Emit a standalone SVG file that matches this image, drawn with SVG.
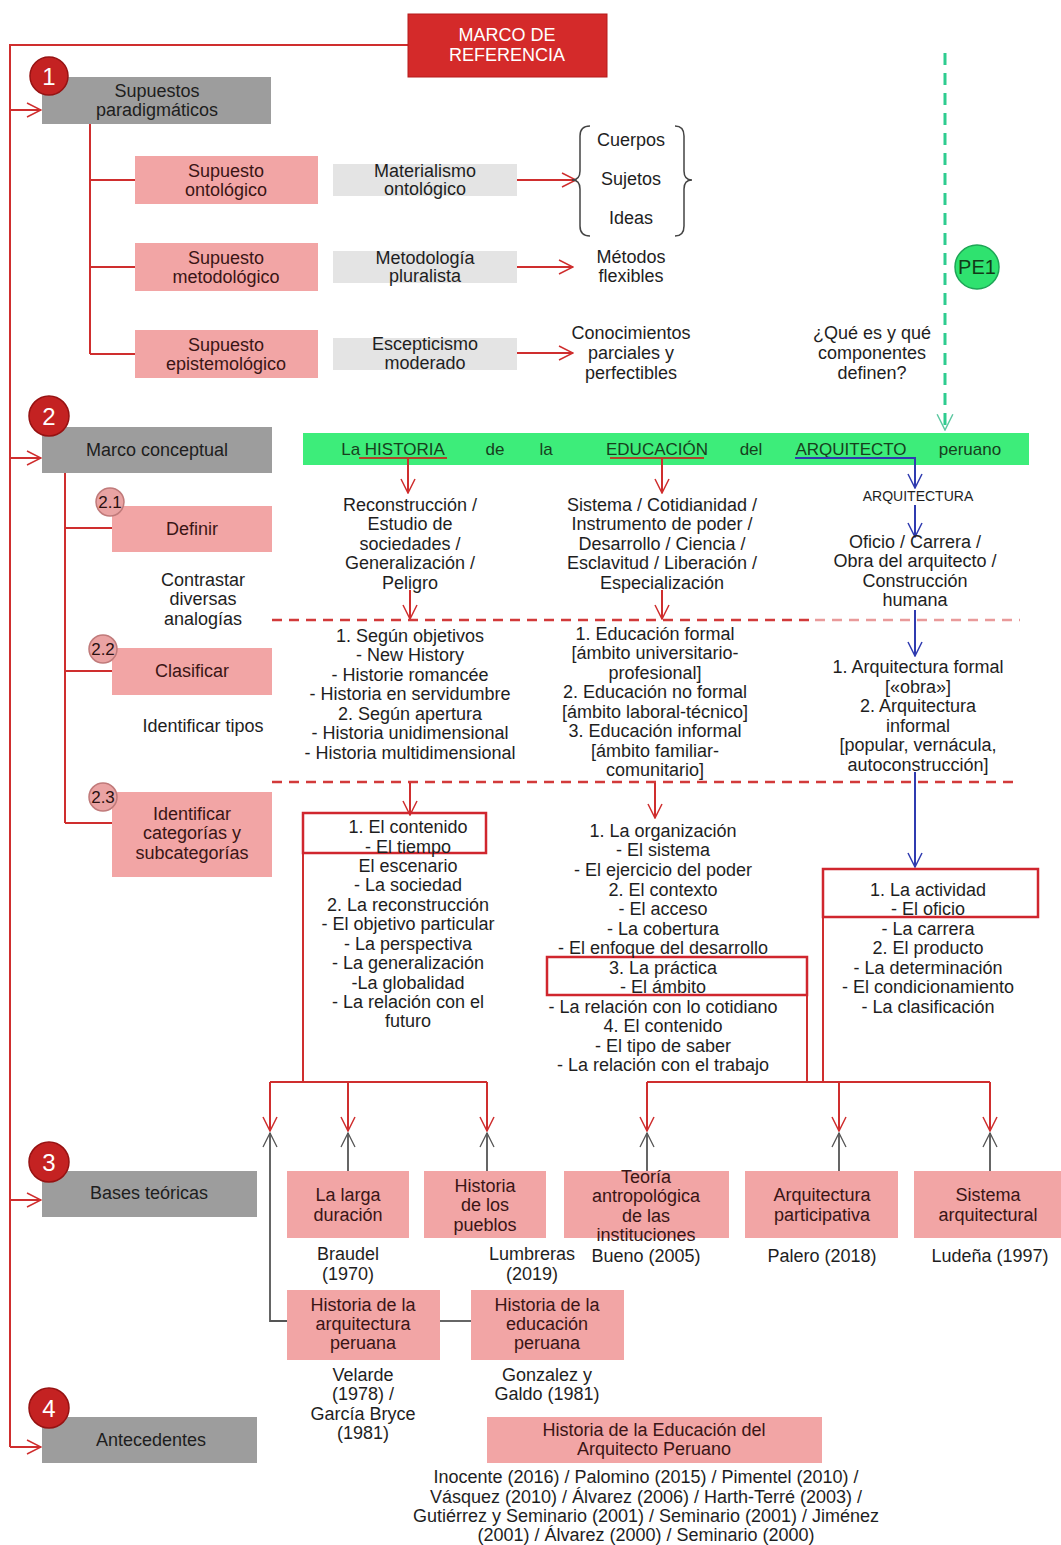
<svg xmlns="http://www.w3.org/2000/svg" width="1061" height="1545" viewBox="0 0 1061 1545">
<style>
.t{font-family:"Liberation Sans",Arial,sans-serif;font-size:18px;fill:#1e1e1e;text-anchor:middle}
.pt{font-family:"Liberation Sans",Arial,sans-serif;font-size:18px;fill:#3a1515;text-anchor:middle}
.gt{font-family:"Liberation Sans",Arial,sans-serif;font-size:17px;fill:#17401d;text-anchor:middle}
.wt{font-family:"Liberation Sans",Arial,sans-serif;font-size:18px;fill:#ffffff;text-anchor:middle}
.nt{font-family:"Liberation Sans",Arial,sans-serif;font-size:24px;fill:#ffffff;text-anchor:middle}
.st{font-family:"Liberation Sans",Arial,sans-serif;font-size:17px;fill:#2a1010;text-anchor:middle}
.pink{fill:#f2a5a5}
.gray{fill:#9d9d9d}
.lg{fill:#e4e4e4}
.num{fill:#c42222;stroke:#961212;stroke-width:1.5}
.snum{fill:#eaa3a3;stroke:#c07a7a;stroke-width:1.5}
.r{stroke:#cf2e2e;stroke-width:2;fill:none}
.b{stroke:#2f3bb0;stroke-width:2;fill:none}
.g{stroke:#555;stroke-width:1.8;fill:none}
.rb{stroke:#d0262e;stroke-width:2.5;fill:none}
</style>
<defs>
<marker id="ar" viewBox="0 0 16 16" refX="15" refY="8" markerWidth="16" markerHeight="16" markerUnits="userSpaceOnUse" orient="auto"><path d="M1,1 L15,8 L1,15" fill="none" stroke="#cf2e2e" stroke-width="1.5"/></marker>
<marker id="ab" viewBox="0 0 16 16" refX="15" refY="8" markerWidth="16" markerHeight="16" markerUnits="userSpaceOnUse" orient="auto"><path d="M1,1 L15,8 L1,15" fill="none" stroke="#2f3bb0" stroke-width="1.5"/></marker>
<marker id="ag" viewBox="0 0 16 16" refX="15" refY="8" markerWidth="16" markerHeight="16" markerUnits="userSpaceOnUse" orient="auto"><path d="M1,1 L15,8 L1,15" fill="none" stroke="#555" stroke-width="1.3"/></marker>
<marker id="agr" viewBox="0 0 16 16" refX="15" refY="8" markerWidth="18" markerHeight="18" markerUnits="userSpaceOnUse" orient="auto"><path d="M1,1 L15,8 L1,15" fill="none" stroke="#5cc7a0" stroke-width="1.3"/></marker>
</defs>
<rect width="1061" height="1545" fill="#ffffff"/>

<g id="titulo">
<rect x="303" y="433" width="726" height="32" fill="#3ded7a"/>
<text class="gt" x="393" y="455">La HISTORIA</text>
<text class="gt" x="495" y="455">de</text>
<text class="gt" x="546" y="455">la</text>
<text class="gt" x="657" y="455">EDUCACIÓN</text>
<text class="gt" x="751" y="455">del</text>
<text class="gt" x="851" y="455">ARQUITECTO</text>
<text class="gt" x="970" y="455">peruano</text>
</g>

<g id="connectors">
<polyline class="r" points="408,45 10,45 10,1447"/>
<line class="r" x1="10" y1="110" x2="41" y2="110" marker-end="url(#ar)"/>
<line class="r" x1="10" y1="458" x2="41" y2="458" marker-end="url(#ar)"/>
<line class="r" x1="10" y1="1200" x2="41" y2="1200" marker-end="url(#ar)"/>
<line class="r" x1="10" y1="1447" x2="41" y2="1447" marker-end="url(#ar)"/>
<polyline class="r" points="90,124 90,354"/>
<line class="r" x1="90" y1="180" x2="135" y2="180"/>
<line class="r" x1="90" y1="267" x2="135" y2="267"/>
<line class="r" x1="90" y1="354" x2="135" y2="354"/>
<line class="r" x1="517" y1="180" x2="576" y2="180" marker-end="url(#ar)"/>
<line class="r" x1="517" y1="267" x2="573" y2="267" marker-end="url(#ar)"/>
<line class="r" x1="517" y1="353" x2="573" y2="353" marker-end="url(#ar)"/>
<path d="M590,126 Q580,126 580,136 L580,171 Q580,180 572,180 Q580,180 580,189 L580,226 Q580,236 590,236" fill="none" stroke="#444" stroke-width="1.5"/>
<path d="M675,126 Q684,126 684,136 L684,171 Q684,180 692,180 Q684,180 684,189 L684,226 Q684,236 675,236" fill="none" stroke="#444" stroke-width="1.5"/>
<line x1="945" y1="53" x2="945" y2="430" stroke="#2ecc8f" stroke-width="3" stroke-dasharray="12,8" marker-end="url(#agr)"/>
<polyline class="r" points="65,473 65,823"/>
<line class="r" x1="65" y1="528" x2="112" y2="528"/>
<line class="r" x1="65" y1="671" x2="112" y2="671"/>
<line class="r" x1="65" y1="823" x2="112" y2="823"/>
<line x1="359" y1="458" x2="447" y2="458" stroke="#b0452a" stroke-width="2.2"/>
<line x1="610" y1="458" x2="704" y2="458" stroke="#b0452a" stroke-width="2.2"/>
<polyline class="b" points="795,458 915,458 915,488" marker-end="url(#ab)"/>
<line class="r" x1="408" y1="458" x2="408" y2="493" marker-end="url(#ar)"/>
<line class="r" x1="662" y1="458" x2="662" y2="493" marker-end="url(#ar)"/>
<line class="b" x1="915" y1="505" x2="915" y2="537" marker-end="url(#ab)"/>
<line class="r" x1="410" y1="590" x2="410" y2="619" marker-end="url(#ar)"/>
<line class="r" x1="662" y1="590" x2="662" y2="619" marker-end="url(#ar)"/>
<line x1="272" y1="620" x2="812" y2="620" stroke="#d23a3a" stroke-width="2.5" stroke-dasharray="10,7"/>
<line x1="815" y1="620" x2="1020" y2="620" stroke="#e99a9a" stroke-width="2.5" stroke-dasharray="10,7"/>
<line class="b" x1="915" y1="610" x2="915" y2="656" marker-end="url(#ab)"/>
<line x1="272" y1="782" x2="1020" y2="782" stroke="#d23a3a" stroke-width="2.5" stroke-dasharray="10,7"/>
<line class="r" x1="410" y1="783" x2="410" y2="815" marker-end="url(#ar)"/>
<line class="r" x1="655" y1="783" x2="655" y2="818" marker-end="url(#ar)"/>
<line class="b" x1="915" y1="772" x2="915" y2="867" marker-end="url(#ab)"/>
<polyline class="r" points="303,853 303,1082"/>
<line class="r" x1="270" y1="1082" x2="487" y2="1082"/>
<line class="r" x1="270" y1="1082" x2="270" y2="1131" marker-end="url(#ar)"/>
<line class="r" x1="348" y1="1082" x2="348" y2="1131" marker-end="url(#ar)"/>
<line class="r" x1="487" y1="1082" x2="487" y2="1131" marker-end="url(#ar)"/>
<polyline class="r" points="807,995 807,1082"/>
<polyline class="r" points="823,917 823,1082"/>
<line class="r" x1="647" y1="1082" x2="990" y2="1082"/>
<line class="r" x1="647" y1="1082" x2="647" y2="1131" marker-end="url(#ar)"/>
<line class="r" x1="839" y1="1082" x2="839" y2="1131" marker-end="url(#ar)"/>
<line class="r" x1="990" y1="1082" x2="990" y2="1131" marker-end="url(#ar)"/>
<polyline class="g" points="287,1321 270,1321 270,1133" marker-end="url(#ag)"/>
<line class="g" x1="348" y1="1171" x2="348" y2="1133" marker-end="url(#ag)"/>
<line class="g" x1="487" y1="1171" x2="487" y2="1133" marker-end="url(#ag)"/>
<line class="g" x1="647" y1="1171" x2="647" y2="1133" marker-end="url(#ag)"/>
<line class="g" x1="839" y1="1171" x2="839" y2="1133" marker-end="url(#ag)"/>
<line class="g" x1="990" y1="1171" x2="990" y2="1133" marker-end="url(#ag)"/>
<line class="g" x1="440" y1="1321" x2="471" y2="1321"/>
</g>

<g id="marco-referencia">
<rect x="408" y="14" width="199" height="63" fill="#d42a2a" stroke="#b51a1a" stroke-width="1"/>
<text class="wt" x="507" y="41">MARCO DE</text>
<text class="wt" x="507" y="61">REFERENCIA</text>
</g>

<g id="n1">
<rect class="gray" x="42" y="77" width="229" height="47"/>
<text class="t" x="157" y="97">Supuestos</text>
<text class="t" x="157" y="116">paradigmáticos</text>
<circle class="num" cx="49" cy="76" r="19"/>
<text class="nt" x="49" y="85">1</text>
</g>

<g id="s-ontologico">
<rect class="pink" x="135" y="156" width="183" height="48"/>
<text class="pt" x="226" y="177">Supuesto</text>
<text class="pt" x="226" y="196">ontológico</text>
</g>
<g id="s-metodologico">
<rect class="pink" x="135" y="243" width="183" height="48"/>
<text class="pt" x="226" y="264">Supuesto</text>
<text class="pt" x="226" y="283">metodológico</text>
</g>
<g id="s-epistemologico">
<rect class="pink" x="135" y="330" width="183" height="48"/>
<text class="pt" x="226" y="351">Supuesto</text>
<text class="pt" x="226" y="370">epistemológico</text>
</g>
<g id="materialismo">
<rect class="lg" x="333" y="164" width="184" height="32"/>
<text class="t" x="425" y="177">Materialismo</text>
<text class="t" x="425" y="195">ontológico</text>
</g>
<g id="metodologia">
<rect class="lg" x="333" y="251" width="184" height="32"/>
<text class="t" x="425" y="264">Metodología</text>
<text class="t" x="425" y="282">pluralista</text>
</g>
<g id="escepticismo">
<rect class="lg" x="333" y="338" width="184" height="32"/>
<text class="t" x="425" y="350">Escepticismo</text>
<text class="t" x="425" y="369">moderado</text>
</g>
<g id="cuerpos">
<text class="t" x="631" y="146">Cuerpos</text>
<text class="t" x="631" y="185">Sujetos</text>
<text class="t" x="631" y="224">Ideas</text>
</g>
<g id="metodos">
<text class="t" x="631" y="263">Métodos</text>
<text class="t" x="631" y="282">flexibles</text>
</g>
<g id="conocimientos">
<text class="t" x="631" y="339">Conocimientos</text>
<text class="t" x="631" y="359">parciales y</text>
<text class="t" x="631" y="379">perfectibles</text>
</g>

<g id="pe1">
<circle cx="977" cy="267" r="22" fill="#2fe26f" stroke="#1ea556" stroke-width="1.5"/>
<text x="977" y="274" style="font-family:'Liberation Sans',Arial,sans-serif;font-size:20px;fill:#123a18;text-anchor:middle">PE1</text>
</g>
<g id="pregunta">
<text class="t" x="872" y="339">¿Qué es y qué</text>
<text class="t" x="872" y="359">componentes</text>
<text class="t" x="872" y="379">definen?</text>
</g>

<g id="n2">
<rect class="gray" x="42" y="427" width="230" height="46"/>
<text class="t" x="157" y="456">Marco conceptual</text>
<circle class="num" cx="49" cy="416" r="20"/>
<text class="nt" x="49" y="425">2</text>
</g>

<g id="n21">
<rect class="pink" x="112" y="506" width="160" height="46"/>
<text class="pt" x="192" y="535">Definir</text>
<circle class="snum" cx="110" cy="502" r="14"/>
<text class="st" x="110" y="508">2.1</text>
</g>
<g id="contrastar">
<text class="t" x="203" y="586">Contrastar</text>
<text class="t" x="203" y="605">diversas</text>
<text class="t" x="203" y="625">analogías</text>
</g>
<g id="n22">
<rect class="pink" x="112" y="648" width="160" height="47"/>
<text class="pt" x="192" y="677">Clasificar</text>
<circle class="snum" cx="103" cy="649" r="14"/>
<text class="st" x="103" y="655">2.2</text>
</g>
<g id="tipos">
<text class="t" x="203" y="732">Identificar tipos</text>
</g>
<g id="n23">
<rect class="pink" x="112" y="792" width="160" height="85"/>
<text class="pt" x="192" y="820">Identificar</text>
<text class="pt" x="192" y="839">categorías y</text>
<text class="pt" x="192" y="859">subcategorías</text>
<circle class="snum" cx="103" cy="797" r="14"/>
<text class="st" x="103" y="803">2.3</text>
</g>

<g id="def-historia">
<text class="t" x="410" y="511">Reconstrucción /</text>
<text class="t" x="410" y="530">Estudio de</text>
<text class="t" x="410" y="550">sociedades /</text>
<text class="t" x="410" y="569">Generalización /</text>
<text class="t" x="410" y="589">Peligro</text>
</g>
<g id="def-educacion">
<text class="t" x="662" y="511">Sistema / Cotidianidad /</text>
<text class="t" x="662" y="530">Instrumento de poder /</text>
<text class="t" x="662" y="550">Desarrollo / Ciencia /</text>
<text class="t" x="662" y="569">Esclavitud / Liberación /</text>
<text class="t" x="662" y="589">Especialización</text>
</g>
<g id="def-arquitecto">
<text x="918" y="501" style="font-family:'Liberation Sans',Arial,sans-serif;font-size:14px;fill:#1e1e1e;text-anchor:middle">ARQUITECTURA</text>
<text class="t" x="915" y="548">Oficio / Carrera /</text>
<text class="t" x="915" y="567">Obra del arquitecto /</text>
<text class="t" x="915" y="587">Construcción</text>
<text class="t" x="915" y="606">humana</text>
</g>

<g id="cla-historia">
<text class="t" x="410" y="642">1. Según objetivos</text>
<text class="t" x="410" y="661">- New History</text>
<text class="t" x="410" y="681">- Historie romancée</text>
<text class="t" x="410" y="700">- Historia en servidumbre</text>
<text class="t" x="410" y="720">2. Según apertura</text>
<text class="t" x="410" y="739">- Historia unidimensional</text>
<text class="t" x="410" y="759">- Historia multidimensional</text>
</g>
<g id="cla-educacion">
<text class="t" x="655" y="640">1. Educación formal</text>
<text class="t" x="655" y="659">[ámbito universitario-</text>
<text class="t" x="655" y="679">profesional]</text>
<text class="t" x="655" y="698">2. Educación no formal</text>
<text class="t" x="655" y="718">[ámbito laboral-técnico]</text>
<text class="t" x="655" y="737">3. Educación informal</text>
<text class="t" x="655" y="757">[ámbito familiar-</text>
<text class="t" x="655" y="776">comunitario]</text>
</g>
<g id="cla-arquitecto">
<text class="t" x="918" y="673">1. Arquitectura formal</text>
<text class="t" x="918" y="693">[«obra»]</text>
<text class="t" x="918" y="712">2. Arquitectura</text>
<text class="t" x="918" y="732">informal</text>
<text class="t" x="918" y="751">[popular, vernácula,</text>
<text class="t" x="918" y="771">autoconstrucción]</text>
</g>

<g id="cat-historia">
<rect class="rb" x="303" y="813" width="183" height="40"/>
<text class="t" x="408" y="833">1. El contenido</text>
<text class="t" x="408" y="853">- El tiempo</text>
<text class="t" x="408" y="872">El escenario</text>
<text class="t" x="408" y="891">- La sociedad</text>
<text class="t" x="408" y="911">2. La reconstrucción</text>
<text class="t" x="408" y="930">- El objetivo particular</text>
<text class="t" x="408" y="950">- La perspectiva</text>
<text class="t" x="408" y="969">- La generalización</text>
<text class="t" x="408" y="989">-La globalidad</text>
<text class="t" x="408" y="1008">- La relación con el</text>
<text class="t" x="408" y="1027">futuro</text>
</g>
<g id="cat-educacion">
<rect class="rb" x="547" y="957" width="260" height="38"/>
<text class="t" x="663" y="837">1. La organización</text>
<text class="t" x="663" y="856">- El sistema</text>
<text class="t" x="663" y="876">- El ejercicio del poder</text>
<text class="t" x="663" y="896">2. El contexto</text>
<text class="t" x="663" y="915">- El acceso</text>
<text class="t" x="663" y="935">- La cobertura</text>
<text class="t" x="663" y="954">- El enfoque del desarrollo</text>
<text class="t" x="663" y="974">3. La práctica</text>
<text class="t" x="663" y="993">- El ámbito</text>
<text class="t" x="663" y="1013">- La relación con lo cotidiano</text>
<text class="t" x="663" y="1032">4. El contenido</text>
<text class="t" x="663" y="1052">- El tipo de saber</text>
<text class="t" x="663" y="1071">- La relación con el trabajo</text>
</g>
<g id="cat-arquitecto">
<rect class="rb" x="823" y="869" width="215" height="48"/>
<text class="t" x="928" y="896">1. La actividad</text>
<text class="t" x="928" y="915">- El oficio</text>
<text class="t" x="928" y="935">- La carrera</text>
<text class="t" x="928" y="954">2. El producto</text>
<text class="t" x="928" y="974">- La determinación</text>
<text class="t" x="928" y="993">- El condicionamiento</text>
<text class="t" x="928" y="1013">- La clasificación</text>
</g>

<g id="n3">
<rect class="gray" x="42" y="1171" width="215" height="46"/>
<text class="t" x="149" y="1199">Bases teóricas</text>
<circle class="num" cx="49" cy="1162" r="20"/>
<text class="nt" x="49" y="1171">3</text>
</g>

<g id="larga-duracion">
<rect class="pink" x="287" y="1171" width="122" height="67"/>
<text class="pt" x="348" y="1201">La larga</text>
<text class="pt" x="348" y="1221">duración</text>
<text class="t" x="348" y="1260">Braudel</text>
<text class="t" x="348" y="1280">(1970)</text>
</g>
<g id="historia-pueblos">
<rect class="pink" x="424" y="1171" width="122" height="67"/>
<text class="pt" x="485" y="1192">Historia</text>
<text class="pt" x="485" y="1211">de los</text>
<text class="pt" x="485" y="1231">pueblos</text>
<text class="t" x="532" y="1260">Lumbreras</text>
<text class="t" x="532" y="1280">(2019)</text>
</g>
<g id="teoria-antropologica">
<rect class="pink" x="564" y="1171" width="165" height="67"/>
<text class="pt" x="646" y="1183">Teoría</text>
<text class="pt" x="646" y="1202">antropológica</text>
<text class="pt" x="646" y="1222">de las</text>
<text class="pt" x="646" y="1241">instituciones</text>
<text class="t" x="646" y="1262">Bueno (2005)</text>
</g>
<g id="arq-participativa">
<rect class="pink" x="745" y="1171" width="153" height="67"/>
<text class="pt" x="822" y="1201">Arquitectura</text>
<text class="pt" x="822" y="1221">participativa</text>
<text class="t" x="822" y="1262">Palero (2018)</text>
</g>
<g id="sistema-arquitectural">
<rect class="pink" x="914" y="1171" width="147" height="67"/>
<text class="pt" x="988" y="1201">Sistema</text>
<text class="pt" x="988" y="1221">arquitectural</text>
<text class="t" x="990" y="1262">Ludeña (1997)</text>
</g>
<g id="hist-arquitectura">
<rect class="pink" x="287" y="1290" width="153" height="70"/>
<text class="pt" x="363" y="1311">Historia de la</text>
<text class="pt" x="363" y="1330">arquitectura</text>
<text class="pt" x="363" y="1349">peruana</text>
<text class="t" x="363" y="1381">Velarde</text>
<text class="t" x="363" y="1400">(1978) /</text>
<text class="t" x="363" y="1420">García Bryce</text>
<text class="t" x="363" y="1439">(1981)</text>
</g>
<g id="hist-educacion">
<rect class="pink" x="471" y="1290" width="153" height="70"/>
<text class="pt" x="547" y="1311">Historia de la</text>
<text class="pt" x="547" y="1330">educación</text>
<text class="pt" x="547" y="1349">peruana</text>
<text class="t" x="547" y="1381">Gonzalez y</text>
<text class="t" x="547" y="1400">Galdo (1981)</text>
</g>

<g id="n4">
<rect class="gray" x="42" y="1417" width="215" height="46"/>
<text class="t" x="151" y="1446">Antecedentes</text>
<circle class="num" cx="49" cy="1408" r="20"/>
<text class="nt" x="49" y="1417">4</text>
</g>
<g id="antecedentes">
<rect class="pink" x="487" y="1417" width="335" height="46"/>
<text class="pt" x="654" y="1436">Historia de la Educación del</text>
<text class="pt" x="654" y="1455">Arquitecto Peruano</text>
<text class="t" x="646" y="1483">Inocente (2016) / Palomino (2015) / Pimentel (2010) /</text>
<text class="t" x="646" y="1503">Vásquez (2010) / Álvarez (2006) / Harth-Terré (2003) /</text>
<text class="t" x="646" y="1522">Gutiérrez y Seminario (2001) / Seminario (2001) / Jiménez</text>
<text class="t" x="646" y="1541">(2001) / Álvarez (2000) / Seminario (2000)</text>
</g>
</svg>
